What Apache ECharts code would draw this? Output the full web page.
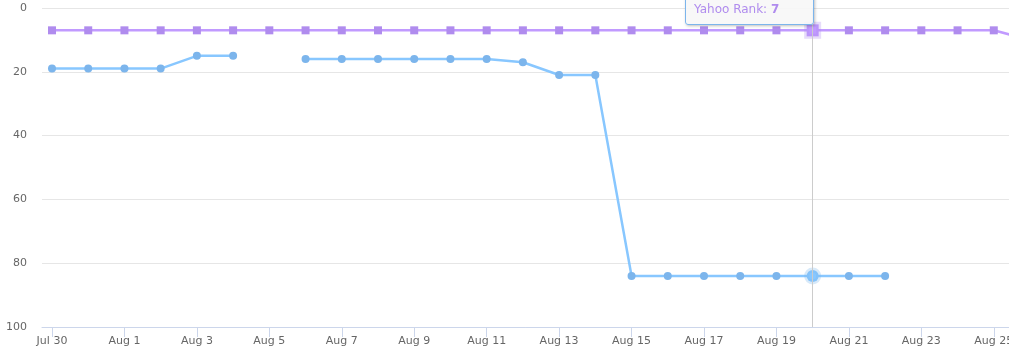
<!DOCTYPE html>
<html>
<head>
<meta charset="utf-8">
<script src="https://cdn.jsdelivr.net/npm/echarts@6/dist/echarts.min.js"></script>
<style>
html,body{margin:0;padding:0;background:#fff;overflow:hidden;}
#c{width:1009px;height:358px;}
</style>
</head>
<body>
<div id="c"></div>
<script>
// Dates (day index 0 = Jul 30)
var dates = ["Jul 30","Jul 31","Aug 1","Aug 2","Aug 3","Aug 4","Aug 5","Aug 6","Aug 7","Aug 8","Aug 9","Aug 10","Aug 11","Aug 12","Aug 13","Aug 14","Aug 15","Aug 16","Aug 17","Aug 18","Aug 19","Aug 20","Aug 21","Aug 22","Aug 23","Aug 24","Aug 25","Aug 26"];
var xTickIdx = [0,2,4,6,8,10,12,14,16,18,20,22,24,26];
var yTicks = [0,20,40,60,80,100];
var googleRank = [19,19,19,19,15,15,null,16,16,16,16,16,16,17,21,21,84,84,84,84,84,84,84,84];
var yahooRank = [7,7,7,7,7,7,7,7,7,7,7,7,7,7,7,7,7,7,7,7,7,7,7,7,7,7,7,10];

var blue = '#7cb5ec', purple = '#b08cee';
var font = '"DejaVu Sans", Verdana, sans-serif';

function toPairs(arr){ return arr.map(function(v,i){ return [i, v]; }); }

var chart = echarts.init(document.getElementById('c'), null, {renderer:'canvas'});
chart.setOption({
  animation: false,
  grid: {left: 42, top: 8, width: 988, height: 319, outerBoundsMode: 'none', containLabel: false},
  tooltip: {
    trigger: 'axis',
    alwaysShowContent: true,
    transitionDuration: 0,
    backgroundColor: 'rgba(247,247,247,0.9)',
    borderColor: blue,
    borderWidth: 1,
    borderRadius: 3,
    padding: [6, 8],
    textStyle: {fontFamily: font, fontSize: 12, color: '#333'},
    extraCssText: 'box-shadow:1px 1px 3px rgba(0,0,0,0.25);',
    axisPointer: {type: 'line', lineStyle: {color: '#cccccc', width: 1, type: 'solid'}, label: {show: false}},
    position: function(point, params, dom, rect, size){
      return [685, 25 - size.contentSize[1]];
    },
    formatter: function(params){
      var idx = params[0].value[0];
      var s = '<span style="font-size:10px">Sunday, ' + dates[idx] + ', 2017</span>';
      params.forEach(function(p){
        s += '<br/><span style="color:' + p.color + '">' + p.seriesName + ':</span> <b style="color:' + p.color + '">' + p.value[1] + '</b>';
      });
      return s;
    }
  },
  xAxis: {
    type: 'value',
    position: 'bottom',
    min: -0.276,
    max: 27,
    splitLine: {show: false},
    axisLine: {show: true, onZero: false, lineStyle: {color: '#ccd6eb', width: 1}},
    axisTick: {show: true, length: 10, lineStyle: {color: '#ccd6eb'}, customValues: xTickIdx},
    axisLabel: {
      customValues: xTickIdx,
      color: '#666666', fontFamily: font, fontSize: 11, margin: 9,
      formatter: function(v){ return dates[Math.round(v)] || ''; }
    }
  },
  yAxis: {
    type: 'value',
    inverse: true,
    min: 0, max: 100, interval: 20,
    axisLine: {show: false},
    axisTick: {show: false},
    splitLine: {lineStyle: {color: '#e6e6e6', width: 1}},
    axisLabel: {
      color: '#666666', fontFamily: font, fontSize: 11, margin: 15,
      formatter: function(v){ return yTicks.indexOf(v) >= 0 ? String(v) : ''; }
    }
  },
  series: [
    {
      name: 'Google Rank',
      type: 'line',
      data: toPairs(googleRank),
      connectNulls: false,
      symbol: 'circle',
      symbolSize: 8,
      showAllSymbol: true,
      lineStyle: {color: blue, width: 2.5},
      itemStyle: {color: blue},
      emphasis: {scale: 1.5, focus: 'none', lineStyle: {width: 2.5}, itemStyle: {borderColor: 'rgba(124,181,236,0.3)', borderWidth: 5}}
    },
    {
      name: 'Yahoo Rank',
      type: 'line',
      data: toPairs(yahooRank),
      symbol: 'rect',
      symbolSize: 8,
      showAllSymbol: true,
      lineStyle: {color: purple, width: 2.5},
      itemStyle: {color: purple},
      emphasis: {scale: 1.5, focus: 'none', lineStyle: {width: 2.5}, itemStyle: {borderColor: 'rgba(176,140,238,0.3)', borderWidth: 5}}
    }
  ]
});
chart.dispatchAction({type: 'showTip', seriesIndex: 0, dataIndex: 21});
</script>
</body>
</html>
